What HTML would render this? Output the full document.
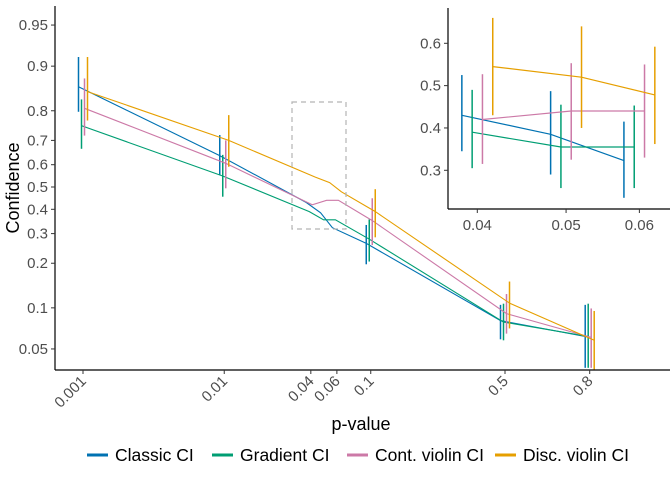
<!DOCTYPE html>
<html><head><meta charset="utf-8"><style>
body{margin:0;background:#fff;}
svg{display:block;font-family:"Liberation Sans",sans-serif;}
</style></head><body>
<svg id="chart" width="672" height="480" viewBox="0 0 672 480">
<defs><clipPath id="mainclip"><rect x="55" y="6" width="615" height="364"/></clipPath>
<clipPath id="insetclip"><rect x="448" y="8" width="222" height="201"/></clipPath></defs>
<g id="main" clip-path="url(#mainclip)"></g>
<g id="axes"></g>
<rect x="292" y="102" width="54" height="127" fill="none" stroke="#b3b3b3" stroke-width="1.2" stroke-dasharray="5,4"/>
<g id="inset"></g>
<g id="legend"></g>
</svg>
<script>
const series = ["Classic CI","Gradient CI","Cont. violin CI","Disc. violin CI"];
const colors = ["#0072B2","#009E73","#CC79A7","#E69F00"];
const pvals = [0.001,0.01,0.04,0.05,0.06,0.1,0.5,0.8];
const classicMean = [0.861,0.639,0.43,0.385,0.323,0.264,0.081,0.062];
const classicLo   = [0.797,0.554,0.345,0.29,0.235,0.197,0.059,0.036];
const classicHi   = [0.914,0.72,0.525,0.487,0.415,0.334,0.105,0.105];
const gradientMean = [0.753,0.55,0.39,0.355,0.355,0.279,0.079,0.062];
const gradientLo   = [0.667,0.456,0.305,0.258,0.258,0.205,0.058,0.036];
const gradientHi   = [0.831,0.642,0.49,0.455,0.453,0.357,0.107,0.107];
const contMean = [0.807,0.606,0.42,0.44,0.44,0.352,0.091,0.061];
const contLo   = [0.718,0.494,0.315,0.325,0.33,0.258,0.065,0.036];
const contHi   = [0.878,0.70,0.527,0.553,0.55,0.449,0.125,0.099];
const discMean = [0.85,0.70,0.545,0.52,0.478,0.39,0.108,0.058];
const discLo   = [0.77,0.591,0.43,0.40,0.362,0.286,0.071,0.035];
const discHi   = [0.914,0.787,0.66,0.64,0.592,0.49,0.152,0.095];
const yTicks = [0.05,0.1,0.2,0.3,0.4,0.5,0.6,0.7,0.8,0.9,0.95];
const xTicks = [0.001,0.01,0.04,0.06,0.1,0.5,0.8];
const insetXTicks = [0.04,0.05,0.06];
const insetYTicks = [0.3,0.4,0.5,0.6];

const means=[classicMean,gradientMean,contMean,discMean];
const los=[classicLo,gradientLo,contLo,discLo];
const his=[classicHi,gradientHi,contHi,discHi];
const NS="http://www.w3.org/2000/svg";
const logit=p=>Math.log(p/(1-p));
const X=(p,i)=>83+(logit(p)-logit(0.001))*61.1+(i-1.5)*3;
const Y=c=>187-logit(c)*55;
const XI=(p,i)=>477.3+(logit(p)-logit(0.04))*380+(i-1.5)*10.3;
const YI=c=>43.3+(0.6-c)*423.3;
function mk(tag,attrs,parent){const e=document.createElementNS(NS,tag);for(const k in attrs)e.setAttribute(k,attrs[k]);parent.appendChild(e);return e;}

const main=document.getElementById('main');
series.forEach((s,i)=>{
  const pts=pvals.map((p,j)=>X(p,i).toFixed(1)+','+Y(means[i][j]).toFixed(1)).join(' ');
  const pl=mk('polyline',{points:pts,fill:'none',stroke:colors[i],'stroke-width':1.1},main);
  
  
  pvals.forEach((p,j)=>{
    if(p>=0.035&&p<=0.065) return;
    const l=mk('line',{x1:X(p,i),x2:X(p,i),y1:Y(his[i][j]),y2:Y(los[i][j]),stroke:colors[i],'stroke-width':1.5},main);
    
    
  });
});

const axes=document.getElementById('axes');
mk('line',{x1:55,x2:55,y1:6,y2:370,stroke:'#000','stroke-width':1.2},axes);
mk('line',{x1:55,x2:670,y1:370,y2:370,stroke:'#000','stroke-width':1.2},axes);
yTicks.forEach(t=>{
  mk('line',{x1:51,x2:55,y1:Y(t),y2:Y(t),stroke:'#333'},axes);
  const tx=mk('text',{x:48,y:Y(t)+5,'text-anchor':'end','font-size':15,fill:'#4d4d4d'},axes);
  tx.textContent=t;
  
  
});
xTicks.forEach(t=>{
  const x=X(t,1.5);
  mk('line',{x1:x,x2:x,y1:370,y2:374,stroke:'#333'},axes);
  const tx=mk('text',{x:x+4,y:382,'text-anchor':'end','font-size':15,fill:'#4d4d4d',transform:`rotate(-45 ${x+4} 382)`},axes);
  tx.textContent=t;
  
  
});
const xt=mk('text',{x:361,y:430,'text-anchor':'middle','font-size':18,fill:'#000'},axes);xt.textContent='p-value';


const yt=mk('text',{x:19,y:188,'text-anchor':'middle','font-size':18,fill:'#000',transform:'rotate(-90 19 188)'},axes);yt.textContent='Confidence';



// inset
const inset=document.getElementById('inset');
mk('rect',{x:448,y:4,width:224,height:240,fill:'#fff'},inset);
const ig=mk('g',{'clip-path':'url(#insetclip)'},inset);
const idx=[2,3,4];
series.forEach((s,i)=>{
  const pts=idx.map(j=>XI(pvals[j],i).toFixed(1)+','+YI(means[i][j]).toFixed(1)).join(' ');
  const pl=mk('polyline',{points:pts,fill:'none',stroke:colors[i],'stroke-width':1.2},ig);
  
  
  idx.forEach(j=>{
    const l=mk('line',{x1:XI(pvals[j],i),x2:XI(pvals[j],i),y1:YI(his[i][j]),y2:YI(los[i][j]),stroke:colors[i],'stroke-width':1.5},ig);
    
    
  });
});
mk('line',{x1:448,x2:448,y1:8,y2:209,stroke:'#000','stroke-width':1.2},inset);
mk('line',{x1:448,x2:670,y1:209,y2:209,stroke:'#000','stroke-width':1.2},inset);
insetYTicks.forEach(t=>{
  mk('line',{x1:444,x2:448,y1:YI(t),y2:YI(t),stroke:'#333'},inset);
  const tx=mk('text',{x:441,y:YI(t)+5,'text-anchor':'end','font-size':15,fill:'#4d4d4d'},inset);tx.textContent=t;
  
  
});
insetXTicks.forEach(t=>{
  const x=XI(t,1.5);
  mk('line',{x1:x,x2:x,y1:209,y2:213,stroke:'#333'},inset);
  const tx=mk('text',{x:x,y:230,'text-anchor':'middle','font-size':15,fill:'#4d4d4d'},inset);tx.textContent=t;
  
  
});

// legend
const legend=document.getElementById('legend');
const lx=[87,212,347,495];
series.forEach((s,i)=>{
  const g=mk('g',{},legend);
  
  
  mk('line',{x1:lx[i],x2:lx[i]+21,y1:455,y2:455,stroke:colors[i],'stroke-width':3},g);
  const tx=mk('text',{x:lx[i]+28,y:461,'font-size':17.5,fill:'#000'},g);tx.textContent=s;
});
</script>
</body></html>
